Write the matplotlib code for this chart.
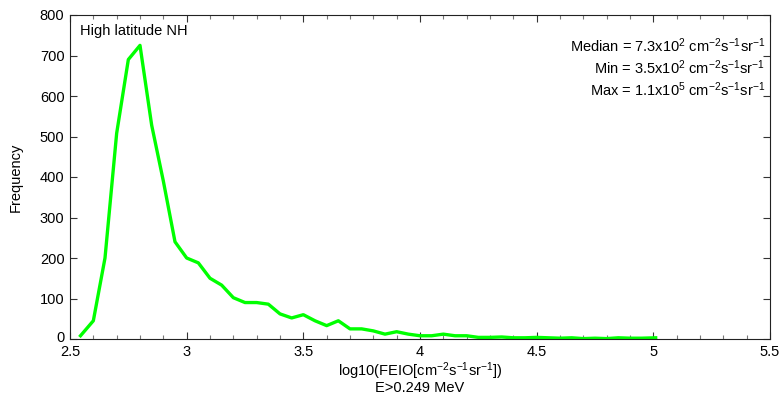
import matplotlib
matplotlib.use('Agg')
import matplotlib.pyplot as plt
import matplotlib.transforms as mtransforms
import numpy as np

fontsize = 10.5
matplotlib.rc('font', family=['Liberation Sans', 'DejaVu Sans'], size=fontsize)
matplotlib.rc('mathtext', fontset='custom', rm='Liberation Sans', it='Liberation Sans')
matplotlib.rc('xtick', direction='in', top=True)
matplotlib.rc('ytick', direction='in', right=True)

# histogram of log10 flux (bin centres) and counts
logflux = [2.545, 2.60, 2.65, 2.70, 2.75, 2.80, 2.85, 2.90, 2.95, 3.00,
           3.05, 3.10, 3.15, 3.20, 3.25, 3.30, 3.35, 3.40, 3.45, 3.50,
           3.55, 3.60, 3.65, 3.70, 3.75, 3.80, 3.85, 3.90, 3.95, 4.00,
           4.05, 4.10, 4.15, 4.20, 4.25, 4.30, 4.35, 4.40, 4.45, 4.50,
           4.55, 4.60, 4.65, 4.70, 4.75, 4.80, 4.85, 4.90, 4.95, 5.01]
counts = [8, 45, 200, 508, 690, 725, 528, 390, 240, 200,
          188, 150, 133, 102, 90, 90, 86, 62, 52, 60,
          45, 33, 45, 25, 25, 20, 12, 18, 12, 8,
          8, 12, 8, 8, 4, 4, 5, 3, 3, 4,
          3, 2, 3, 1, 2, 1, 3, 2, 2, 3]

xticks = [2.5, 3, 3.5, 4, 4.5, 5, 5.5]
xticklabels = ['2.5', '3', '3.5', '4', '4.5', '5', '5.5']
yticks = [0, 100, 200, 300, 400, 500, 600, 700, 800]

stats = [r'Median = 7.3x10$^{2}$ cm$^{-2}$s$^{-1}$sr$^{-1}$',
         r'Min = 3.5x10$^{2}$ cm$^{-2}$s$^{-1}$sr$^{-1}$',
         r'Max = 1.1x10$^{5}$ cm$^{-2}$s$^{-1}$sr$^{-1}$']

fig = plt.figure(figsize=(7.84, 3.94), dpi=100)
ax = fig.add_axes([70/784, 55/394, 700/784, 324/394])
ax.plot(logflux, counts, color='#00ff00', linewidth=2.4, solid_joinstyle='round')

ax.set_xlim(2.5, 5.5)
ax.set_ylim(0, 800)
ax.set_xticks(xticks)
ax.set_xticklabels(xticklabels)
ax.set_xticks(np.arange(2.5, 5.51, 0.1), minor=True)
ax.set_yticks(yticks)
ax.tick_params(which='major', length=5, width=0.8, color='#333333')
ax.tick_params(which='minor', length=3, width=0.8, color='#777777')
ax.tick_params(axis='x', pad=4)
ax.tick_params(axis='y', pad=4)
for s in ax.spines.values():
    s.set_linewidth(0.8)
    s.set_color('#222222')

# lift the "0" label a little so it clears the "2.5" below it
lbl0 = ax.get_yticklabels()[0]
lbl0.set_transform(lbl0.get_transform() +
                   mtransforms.ScaledTranslation(0, 2/72, fig.dpi_scale_trans))

ax.set_xlabel('log10(FEIO[cm$^{-2}$s$^{-1}$sr$^{-1}$])\nE>0.249 MeV',
              linespacing=0.95, labelpad=1)
ax.set_ylabel('Frequency', labelpad=12)

ax.text(0.014, 0.972, 'High latitude NH', transform=ax.transAxes,
        ha='left', va='top')
for i, s in enumerate(stats):
    ax.text(0.993, 0.905 - i*0.068, s, transform=ax.transAxes,
            ha='right', va='center')

fig.savefig('out.png', dpi=100)
